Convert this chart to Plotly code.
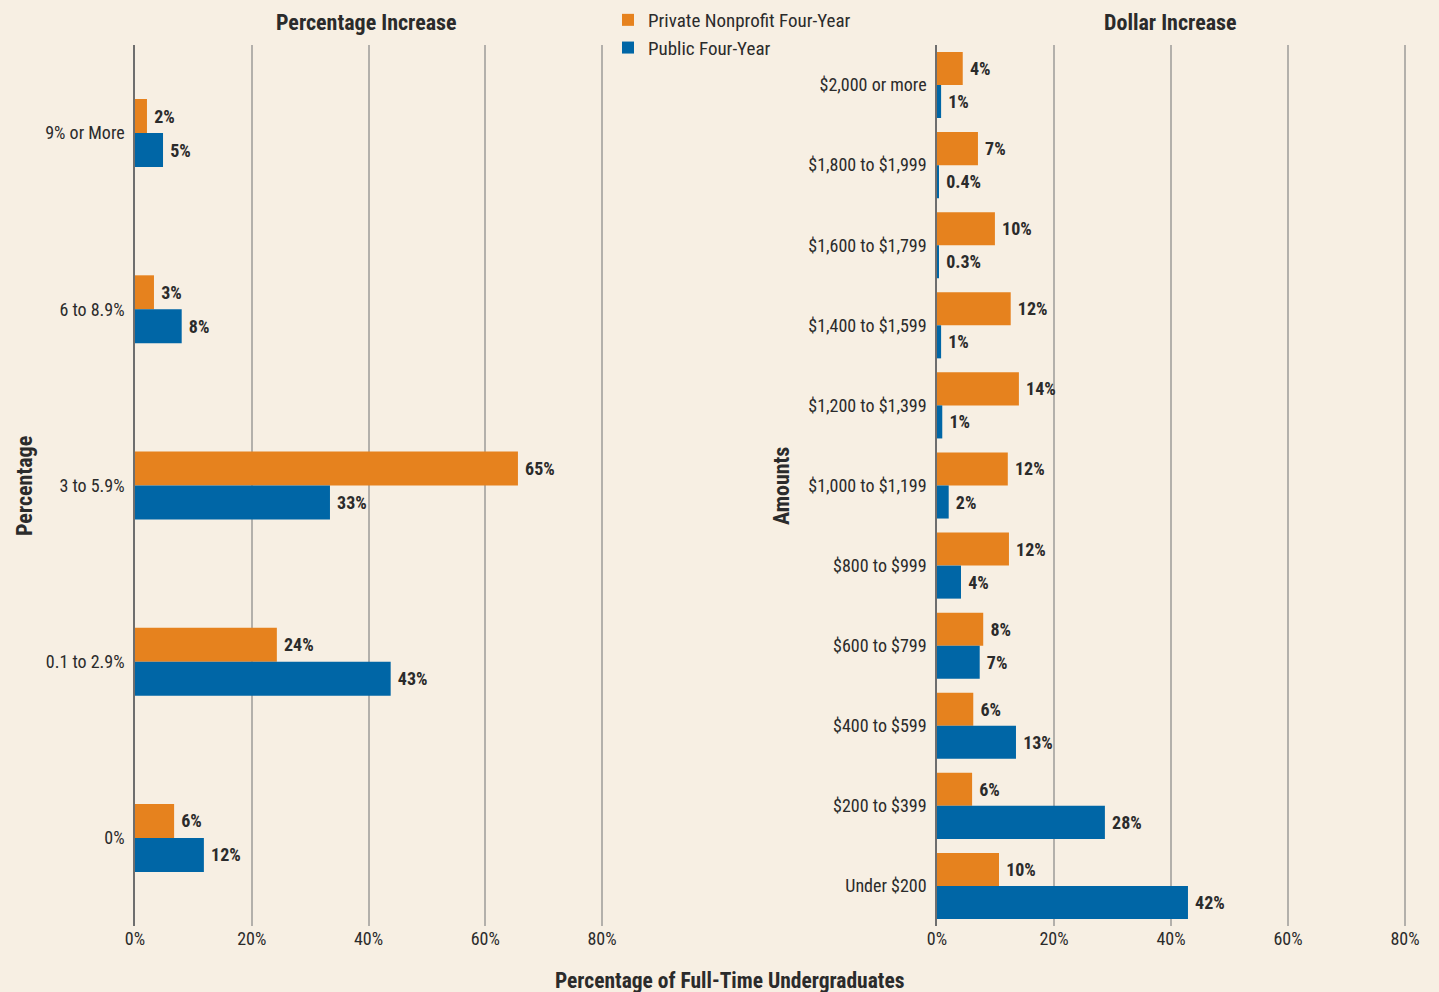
import plotly.graph_objects as go

# Left panel: percentage increase
pct_cats = ["9% or More", "6 to 8.9%", "3 to 5.9%", "0.1 to 2.9%", "0%"]
pct_private = [2.05, 3.25, 65.6, 24.3, 6.7]
pct_private_lbl = ["2%", "3%", "65%", "24%", "6%"]
pct_public = [4.8, 8.0, 33.4, 43.8, 11.8]
pct_public_lbl = ["5%", "8%", "33%", "43%", "12%"]

# Right panel: dollar increase
usd_cats = ["$2,000 or more", "$1,800 to $1,999", "$1,600 to $1,799", "$1,400 to $1,599",
            "$1,200 to $1,399", "$1,000 to $1,199", "$800 to $999", "$600 to $799",
            "$400 to $599", "$200 to $399", "Under $200"]
usd_private = [4.4, 7.0, 9.9, 12.6, 14.0, 12.1, 12.3, 7.9, 6.2, 6.0, 10.6]
usd_private_lbl = ["4%", "7%", "10%", "12%", "14%", "12%", "12%", "8%", "6%", "6%", "10%"]
usd_public = [0.7, 0.34, 0.3, 0.7, 0.9, 2.0, 4.1, 7.3, 13.5, 28.7, 42.9]
usd_public_lbl = ["1%", "0.4%", "0.3%", "1%", "1%", "2%", "4%", "7%", "13%", "28%", "42%"]

x_ticks = [0, 20, 40, 60, 80]
x_tick_text = ["0%", "20%", "40%", "60%", "80%"]

ORANGE = "#E6821E"
BLUE = "#0066A6"
BG = "#F7EFE3"
INK = "#2B2B2B"
FONT = "Roboto Condensed, Liberation Sans Narrow, Roboto, sans-serif"

W, H = 1439, 992
X_MAX = 80.25  # a bit past 80 so the 80% gridline is still drawn


def px_x(p):
    return p / W


def px_y(p):
    return 1 - p / H


def x_dom(zero_px, eighty_px):
    # domain such that 0% and 80% land on the given pixels
    per = (eighty_px - zero_px) / 80
    return [px_x(zero_px), px_x(zero_px + per * X_MAX)]


fig = go.Figure()

lbl_font = dict(family=FONT, size=18, color=INK, weight="bold")


def add_pair(cats, priv, priv_lbl, pub, pub_lbl, xa, ya, w, show):
    # orange sits above blue in each category (y axis is reversed)
    fig.add_trace(go.Bar(
        y=cats, x=priv, orientation="h", name="Private Nonprofit Four-Year",
        marker=dict(color=ORANGE, line=dict(width=0)), width=w, offset=-w,
        text=priv_lbl, texttemplate=" %{text}", textposition="outside",
        textfont=lbl_font, constraintext="none", cliponaxis=False,
        xaxis=xa, yaxis=ya, showlegend=show, legendgroup="priv", hoverinfo="x+y"))
    fig.add_trace(go.Bar(
        y=cats, x=pub, orientation="h", name="Public Four-Year",
        marker=dict(color=BLUE, line=dict(width=0)), width=w, offset=0,
        text=pub_lbl, texttemplate=" %{text}", textposition="outside",
        textfont=lbl_font, constraintext="none", cliponaxis=False,
        xaxis=xa, yaxis=ya, showlegend=show, legendgroup="pub", hoverinfo="x+y"))


add_pair(pct_cats, pct_private, pct_private_lbl, pct_public, pct_public_lbl, "x", "y", 34 / 176.25, True)
add_pair(usd_cats, usd_private, usd_private_lbl, usd_public, usd_public_lbl, "x2", "y2", 33 / 80, False)

tick_font = dict(family=FONT, size=18, color=INK)
xcommon = dict(range=[0, X_MAX], tickvals=x_ticks, ticktext=x_tick_text, showgrid=True,
               gridcolor="#B3B0AB", gridwidth=1.5, zeroline=False, ticks="",
               tickfont=tick_font, automargin=False, fixedrange=True)
ycommon = dict(autorange="reversed", showgrid=False, zeroline=False, showline=True,
               linecolor="#6E6E6E", linewidth=1.5, ticks="", tickfont=tick_font,
               ticklabelstandoff=5, automargin=False, fixedrange=True)

ydom = [px_y(926), px_y(45)]


def ann(text, x, y, size, angle=0):
    return dict(text=text, x=px_x(x), y=px_y(y), xref="paper", yref="paper",
                xanchor="center", yanchor="middle", showarrow=False, textangle=angle,
                font=dict(family=FONT, size=size, color=INK))


fig.update_layout(
    width=W, height=H,
    paper_bgcolor=BG, plot_bgcolor=BG,
    margin=dict(l=0, r=0, t=0, b=0, pad=0),
    barmode="overlay",
    font=dict(family=FONT, size=18, color=INK),
    xaxis=dict(domain=x_dom(135, 602), anchor="y", **xcommon),
    yaxis=dict(domain=ydom, anchor="x", **ycommon),
    xaxis2=dict(domain=x_dom(937, 1405), anchor="y2", **xcommon),
    yaxis2=dict(domain=ydom, anchor="x2", **ycommon),
    legend=dict(x=px_x(608), y=px_y(1), xanchor="left", yanchor="top",
                bgcolor="rgba(0,0,0,0)", font=dict(family=FONT, size=19, color=INK),
                traceorder="normal", tracegroupgap=9, itemclick=False),
    annotations=[
        ann("<b>Percentage Increase</b>", 366, 22, 22),
        ann("<b>Dollar Increase</b>", 1170, 22, 22),
        ann("<b>Percentage</b>", 24, 486, 22, -90),
        ann("<b>Amounts</b>", 781, 486, 22, -90),
        ann("<b>Percentage of Full-Time Undergraduates</b>", 729, 980, 21.5),
    ],
)

fig.write_html("out.html", config={"displayModeBar": False},
               post_script="document.body.style.margin='0';document.body.style.background='%s';" % BG)
